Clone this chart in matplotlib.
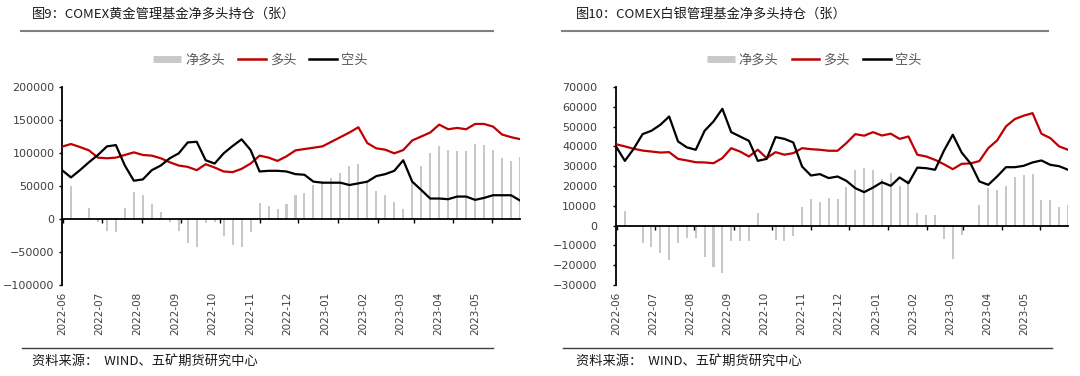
import numpy as np
import pandas as pd
import matplotlib
matplotlib.use('Agg')
import matplotlib.pyplot as plt
import matplotlib.dates as mdates
from matplotlib.lines import Line2D

plt.rcParams['font.family'] = ['DejaVu Sans', 'Noto Sans CJK SC']
CJK = ['Noto Sans CJK SC', 'DejaVu Sans']

# 周度数据 2022-05-31 ~ 2023-05-23（张）
dates = pd.date_range('2022-05-31', periods=52, freq='7D')

gold_long = [109600, 113600, 109000, 104000, 93000, 92000, 93000, 97000, 101000, 97000,
             96000, 92000, 86000, 81000, 79000, 74000, 83000, 78000, 72000, 71000,
             76000, 84000, 96000, 93000, 88000, 95000, 104000, 106000, 108000, 110000,
             117000, 124000, 131000, 139000, 115000, 107000, 105000, 99500, 104500, 119000,
             125000, 131000, 143000, 136000, 138000, 136000, 144000, 144000, 140000, 128000,
             124000, 121000]
gold_short = [74000, 63000, 74000, 86000, 97000, 110000, 112000, 81000, 58000, 60000,
              74000, 81000, 92000, 99500, 116000, 117000, 89000, 84000, 99500, 110600,
              120700, 104500, 72000, 73000, 73000, 72000, 68000, 67000, 56600, 55000,
              55000, 55000, 51500, 54000, 56600, 65000, 68000, 73000, 89000, 56600,
              44000, 31000, 31000, 30000, 34000, 34000, 29000, 32000, 36000, 36000,
              36000, 28000]
gold_net = [36000, 50000, 0, 17000, -4000, -18000, -19000, 16000, 41000, 37000,
            22000, 11000, -5000, -18000, -36000, -43000, -6000, -5000, -26000, -39000,
            -43000, -19000, 25000, 20000, 15000, 23000, 37000, 40000, 52000, 57000,
            62000, 69000, 80000, 84000, 57000, 42000, 37000, 26000, 15000, 58000,
            81000, 100000, 111000, 105000, 103000, 103000, 113000, 112000, 104000, 93000,
            88000, 94000]

silver_long = [41100, 40000, 38800, 37900, 37400, 36900, 37100, 33700, 32900, 32000,
               31900, 31500, 34100, 39100, 37400, 34900, 38300, 34100, 37100, 35800,
               36600, 39100, 38600, 38300, 37800, 37800, 41700, 46200, 45400, 47200,
               45500, 46400, 43800, 45000, 35800, 34900, 33200, 31000, 28500, 31200,
               31400, 32600, 39100, 43000, 50100, 53800, 55500, 56800, 46400, 44200,
               40000, 38300]
silver_short = [40000, 32700, 38800, 46200, 47900, 50900, 55100, 42500, 39500, 38300,
                47900, 52600, 59000, 47200, 45000, 42800, 32700, 33700, 44700, 43800,
                42000, 29800, 25300, 26000, 24000, 24800, 22600, 18900, 16900, 19200,
                21900, 20100, 24300, 21400, 29300, 29000, 28200, 37800, 45900, 36900,
                31400, 22300, 20600, 24800, 29500, 29500, 30200, 31900, 32900, 30700,
                30000, 28200]
silver_net = [1100, 7400, 0, -8900, -10600, -14000, -17400, -8900, -6500, -6100,
              -15700, -20700, -24000, -8000, -7600, -7600, 6200, 400, -7300, -7600,
              -5200, 9600, 13500, 12000, 13800, 13500, 19700, 28200, 29000, 28200,
              23600, 26500, 20200, 23000, 6200, 5400, 5400, -6700, -17000, -4700,
              0, 10500, 18900, 18000, 20100, 24500, 25600, 26000, 13000, 13000,
              9600, 10500]

series_names = ['净多头', '多头', '空头']
titles = ['图9：COMEX黄金管理基金净多头持仓（张）', '图10：COMEX白银管理基金净多头持仓（张）']
source = '资料来源：  WIND、五矿期货研究中心'

month_ticks = pd.date_range('2022-06-01', '2023-05-01', freq='MS')
month_labels = [d.strftime('%Y-%m') for d in month_ticks]

x = mdates.date2num(dates)
tick_x = mdates.date2num(month_ticks)
# 标签间距比月度刻度略窄（原图类别轴效果）
label_x = x[0] + 0.1 + 29.3 * np.arange(len(month_labels))

RED = '#c00000'
GRAY = '#c8c8c8'
TXT = '#404040'

fig = plt.figure(figsize=(10.8, 3.76), dpi=100)


def draw(rect, net, long_, short, ylim, ystep):
    ax = fig.add_axes(rect)
    ax.bar(x, net, width=1.6, color=GRAY, zorder=1)
    ax.plot(x, long_, color=RED, lw=1.6, zorder=3)
    ax.plot(x, short, color='black', lw=1.6, zorder=3)
    ax.set_xlim(x[0], x[-1])
    ax.set_ylim(*ylim)
    ax.set_yticks(np.arange(ylim[0], ylim[1] + 1, ystep))
    for s in ['top', 'right']:
        ax.spines[s].set_visible(False)
    ax.spines['bottom'].set_position(('data', 0))
    ax.spines['bottom'].set_linewidth(1.3)
    ax.spines['bottom'].set_zorder(4)
    ax.spines['left'].set_linewidth(1.3)
    ax.set_xticks(tick_x)
    ax.tick_params(axis='x', direction='out', length=3, width=1, labelbottom=False)
    ax.tick_params(axis='y', direction='out', length=2.5, width=1, labelsize=8,
                   labelcolor=TXT)
    sec = ax.secondary_xaxis(0)
    sec.set_xticks(label_x, labels=month_labels)
    sec.tick_params(length=0, pad=5, labelsize=7.5, labelrotation=90, labelcolor=TXT)
    sec.spines['bottom'].set_visible(False)
    return ax


ax1 = draw([62 / 1080, 91 / 376, 458 / 1080, 198 / 376], gold_net, gold_long, gold_short,
           (-100000, 200000), 50000)
ax1.tick_params(axis='y', pad=3)
ax2 = draw([616 / 1080, 91 / 376, 452 / 1080, 198 / 376], silver_net, silver_long,
           silver_short, (-30000, 70000), 10000)
ax2.tick_params(axis='y', pad=11)

handles = [Line2D([], [], color=GRAY, lw=5, solid_capstyle='butt'),
           Line2D([], [], color=RED, lw=1.8),
           Line2D([], [], color='black', lw=1.8)]

for cx, tx, title, lx0, lx1, bx1 in [(260.5, 32, titles[0], 21, 493, 493),
                                      (814, 576, titles[1], 562, 1048, 1052)]:
    fig.text(tx / 1080, 1 - 14 / 376, title, fontsize=9.5, family=CJK, color='#1a1a1a',
             ha='left', va='center')
    fig.add_artist(Line2D([lx0 / 1080, lx1 / 1080], [1 - 31 / 376] * 2,
                          color='#808080', lw=1.5))
    fig.legend(handles, series_names, loc='center', bbox_to_anchor=(cx / 1080, 1 - 60 / 376),
               ncol=3, frameon=False, handlelength=2.1, handletextpad=0.3,
               columnspacing=1.0, labelcolor='#595959',
               prop={'family': CJK, 'size': 9.5})
    fig.add_artist(Line2D([(lx0 + 1) / 1080, bx1 / 1080], [1 - 348 / 376] * 2,
                          color='#404040', lw=1))
    fig.text(tx / 1080, 1 - 361 / 376, source, fontsize=9.5, family=CJK, color='#1a1a1a',
             ha='left', va='center')

fig.savefig('out.png', dpi=100)
